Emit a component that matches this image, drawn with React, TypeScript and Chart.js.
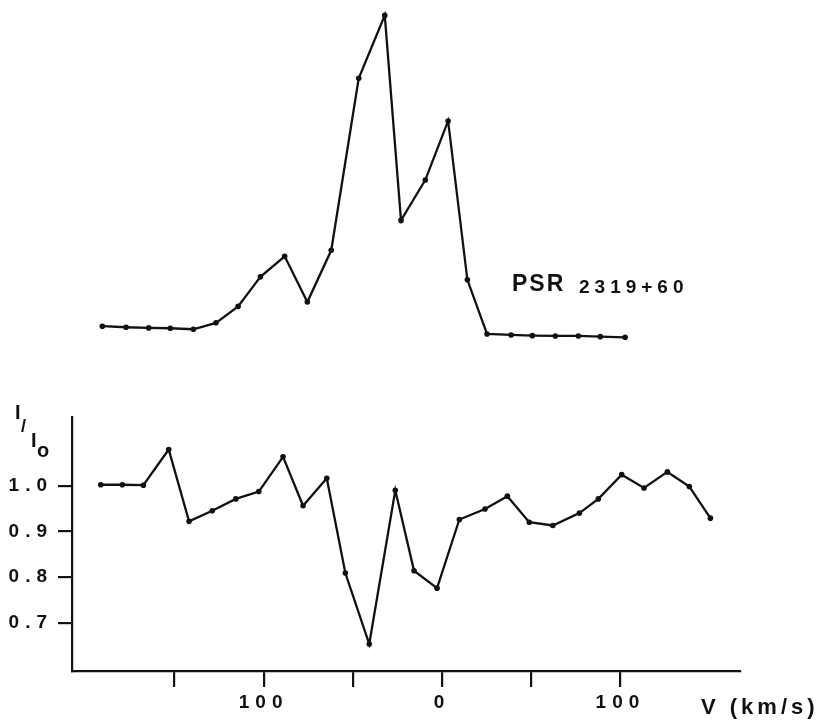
import React, { useEffect, useRef } from 'react';
import { Chart, registerables } from 'chart.js';

Chart.register(...registerables);

// ---- Data ----
// Lower panel: absorption spectrum I/I0 versus velocity (km/s)
const absVelocity = [
  -191.3, -179.2, -167.4, -153.2, -141.8, -128.8, -115.6, -102.7, -89.1, -77.9,
  -64.6, -54.2, -40.8, -26.2, -15.7, -2.8, 9.7, 24.1, 36.6, 48.9,
  62.1, 77.0, 87.6, 100.7, 113.2, 126.3, 138.6, 150.4,
];
const absRatio = [
  1.002, 1.002, 1.001, 1.079, 0.922, 0.945, 0.971, 0.987, 1.063, 0.956,
  1.016, 0.809, 0.654, 0.990, 0.814, 0.776, 0.926, 0.949, 0.977, 0.920,
  0.913, 0.940, 0.971, 1.024, 0.995, 1.030, 0.998, 0.929,
];

// Upper panel: emission profile (arbitrary units) versus velocity (km/s)
const emVelocity = [
  -190.4, -177.1, -164.4, -152.3, -139.4, -126.7, -114.3, -101.8, -88.2, -75.5,
  -62.1, -46.7, -32.1, -23.0, -9.4, 3.4, 14.2, 25.2, 38.7, 50.6,
  63.5, 76.4, 88.7, 102.6,
];
const emIntensity = [
  4.1, 3.8, 3.6, 3.5, 3.2, 5.1, 10.0, 18.8, 24.9, 11.3,
  26.7, 77.9, 96.6, 35.6, 47.6, 65.2, 17.9, 1.8, 1.5, 1.3,
  1.2, 1.2, 1.0, 0.8,
];

// Axis ticks
const xTickValues = [-150, -100, -50, 0, 50, 100];
const xTickLabels = ['', '100', '', '0', '', '100'];
const yTickValues = [0.7, 0.8, 0.9, 1.0];
const yTickLabels = ['0.7', '0.8', '0.9', '1.0'];

// Texts
const sourcePrefix = 'PSR';
const sourceNumber = '2319+60';
const xAxisTitle = 'V (km/s)';

const FONT = "'Liberation Sans', Arial, Helvetica, sans-serif";
const INK = '#111';

const spacingPlugin = {
  id: 'letterSpacingTicks',
  beforeDraw(chart: any) {
    chart.ctx.letterSpacing = '6px';
  },
  afterDraw(chart: any) {
    chart.ctx.letterSpacing = '0px';
  },
};

export default function App() {
  const topRef = useRef<HTMLCanvasElement | null>(null);
  const botRef = useRef<HTMLCanvasElement | null>(null);

  useEffect(() => {
    const lineStyle = {
      showLine: true,
      borderColor: INK,
      borderWidth: 2.3,
      pointRadius: 2.8,
      pointBackgroundColor: INK,
      pointBorderWidth: 0,
      tension: 0,
      clip: false as any,
    };

    const topChart = new Chart(topRef.current as HTMLCanvasElement, {
      type: 'scatter',
      data: {
        datasets: [
          {
            ...lineStyle,
            data: emVelocity.map((v, i) => ({ x: v, y: emIntensity[i] })),
          },
        ],
      },
      options: {
        animation: false,
        responsive: false,
        devicePixelRatio: 1,
        events: [],
        layout: { padding: { left: 72, right: 80, top: 0, bottom: 381 } },
        plugins: { legend: { display: false }, tooltip: { enabled: false } },
        scales: {
          x: { type: 'linear', min: -207.4, max: 167.0, display: false },
          y: { type: 'linear', min: 0, max: 100, display: false },
        },
      },
    });

    const botChart = new Chart(botRef.current as HTMLCanvasElement, {
      type: 'scatter',
      data: {
        datasets: [
          {
            ...lineStyle,
            data: absVelocity.map((v, i) => ({ x: v, y: absRatio[i] })),
          },
        ],
      },
      options: {
        animation: false,
        responsive: false,
        devicePixelRatio: 1,
        events: [],
        layout: { padding: { left: 0, right: 80, top: 417, bottom: 0 } },
        plugins: { legend: { display: false }, tooltip: { enabled: false } },
        scales: {
          x: {
            type: 'linear',
            min: -207.4,
            max: 167.0,
            afterBuildTicks: (scale: any) => {
              scale.ticks = xTickValues.map((value) => ({ value }));
            },
            afterFit: (scale: any) => {
              scale.height = 50;
            },
            grid: {
              display: true,
              drawOnChartArea: false,
              drawTicks: true,
              tickLength: 16,
              color: INK,
              lineWidth: 2.2,
            },
            border: { display: true, color: INK, width: 2.2 },
            ticks: {
              autoSkip: false,
              maxRotation: 0,
              minRotation: 0,
              padding: 4,
              color: INK,
              font: { family: FONT, size: 19, weight: 'bold' },
              callback: (value: any) => {
                const idx = xTickValues.indexOf(Number(value));
                return idx >= 0 ? xTickLabels[idx] : '';
              },
            },
          },
          y: {
            type: 'linear',
            min: 0.595,
            max: 1.15,
            afterBuildTicks: (scale: any) => {
              scale.ticks = yTickValues.map((value) => ({ value }));
            },
            afterFit: (scale: any) => {
              scale.width = 72;
            },
            grid: {
              display: true,
              drawOnChartArea: false,
              drawTicks: true,
              tickLength: 14,
              color: INK,
              lineWidth: 2.2,
            },
            border: { display: true, color: INK, width: 2.2 },
            ticks: {
              autoSkip: false,
              padding: 5,
              color: INK,
              font: { family: FONT, size: 19, weight: 'bold' },
              callback: (value: any) => {
                const idx = yTickValues.findIndex((t) => Math.abs(t - Number(value)) < 1e-6);
                return idx >= 0 ? yTickLabels[idx] : '';
              },
            },
          },
        },
      },
      plugins: [spacingPlugin],
    });

    return () => {
      topChart.destroy();
      botChart.destroy();
    };
  }, []);

  const txt = (extra: React.CSSProperties): React.CSSProperties => ({
    position: 'absolute',
    fontFamily: FONT,
    fontWeight: 'bold',
    color: INK,
    lineHeight: 1,
    whiteSpace: 'nowrap',
    ...extra,
  });

  return (
    <div
      style={{
        position: 'absolute',
        left: 0,
        top: 0,
        width: 820,
        height: 721,
        background: '#fff',
        overflow: 'hidden',
      }}
    >
      <canvas
        ref={botRef}
        width={820}
        height={721}
        style={{ position: 'absolute', left: 0, top: 0, width: 820, height: 721 }}
      />
      <canvas
        ref={topRef}
        width={820}
        height={721}
        style={{ position: 'absolute', left: 0, top: 0, width: 820, height: 721 }}
      />
      <div style={txt({ left: 512, top: 272, fontSize: 23, letterSpacing: '2px' })}>{sourcePrefix}</div>
      <div style={txt({ left: 579, top: 277, fontSize: 19, letterSpacing: '5px' })}>{sourceNumber}</div>
      <div style={txt({ left: 701, top: 696, fontSize: 22, letterSpacing: '4px' })}>{xAxisTitle}</div>
      <span style={txt({ left: 15, top: 402, fontSize: 20 })}>I</span>
      <span style={txt({ left: 21, top: 417, fontSize: 18 })}>/</span>
      <span style={txt({ left: 31, top: 430, fontSize: 20 })}>I</span>
      <span style={txt({ left: 37, top: 440, fontSize: 20 })}>o</span>
    </div>
  );
}
